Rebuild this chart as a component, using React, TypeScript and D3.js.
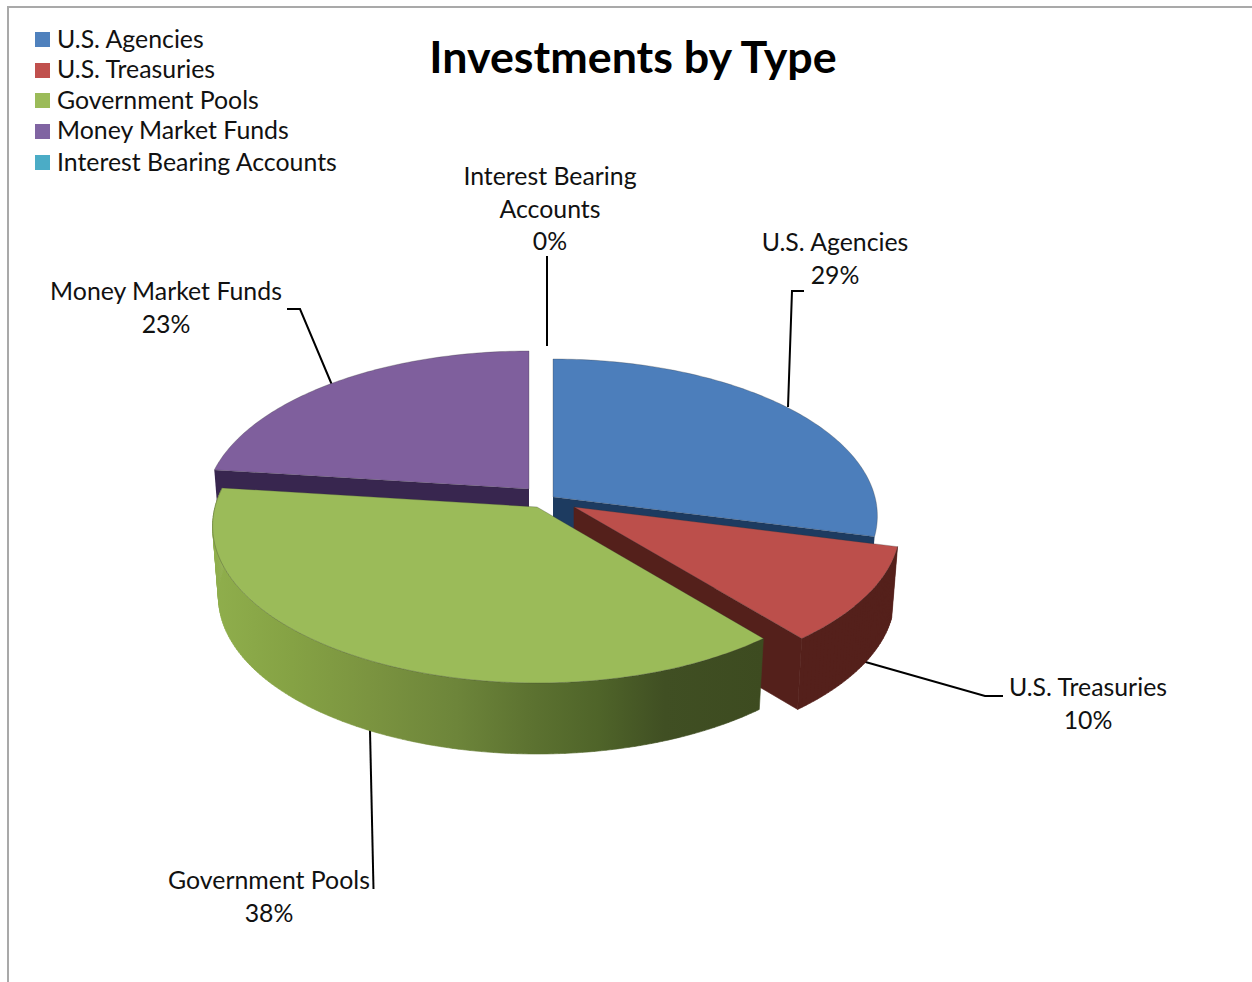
import React from "react";
import * as d3 from "d3";

// Portfolio shares by investment type, in percent.
const categories = ["U.S. Agencies", "U.S. Treasuries", "Government Pools", "Money Market Funds", "Interest Bearing Accounts"];
const shares = [29, 10, 38, 23, 0];
const topColors = ["#4c7ebb", "#bc4f4b", "#9bbb59", "#7f5f9d", "#4bacc6"];
const wallColors = ["#1d3b60", "#54201b", "#3e4d20", "#38264f", "#1d5f70"];
const legendSwatches = ["#4f81bd", "#c0504d", "#9bbb59", "#8064a2", "#4bacc6"];

// Pie geometry: a tilted disc with a mild perspective, the near rim larger than the far rim.
const TILT = 154.7;
const PERSPECTIVE = 0.121;
const THICKNESS = 71;
const FLOOR_SHRINK = 0.982;
const CENTER = { x: 544, y: 499 };
const sliceRadius = [322, 324, 322, 322, 322];
const explode = [
  { dx: 9, dy: -2 },
  { dx: 30, dy: 8 },
  { dx: -7, dy: 8 },
  { dx: -15, dy: -10 },
  { dx: 0, dy: 0 },
];

const wallGradientStops: [number, string][] = [
  [0, "#8fae4c"],
  [0.14, "#85a244"],
  [0.28, "#7b9440"],
  [0.44, "#6d853a"],
  [0.57, "#5d7331"],
  [0.7, "#4f6429"],
  [0.82, "#404f23"],
  [1, "#3d4b20"],
];

// Labels with their leader lines, laid out by hand around the pie.
const calloutLines: [string, string][] = [
  ["Interest Bearing", "Accounts"],
  ["U.S. Agencies", ""],
  ["Money Market Funds", ""],
  ["U.S. Treasuries", ""],
  ["Government Pools", ""],
];
const calloutShares = ["0%", "29%", "23%", "10%", "38%"];
const calloutX = [550, 835, 166, 1088, 269];
const calloutY = [185, 251, 300, 696, 889];
const leaderPaths: [number, number][][] = [
  [[547, 256], [547, 346]],
  [[804, 291], [792, 291], [788, 407]],
  [[287, 309], [300, 309], [332, 385]],
  [[1003, 696], [985, 696], [862, 661]],
  [[370, 730], [373.5, 889]],
];

const FONT = "Lato, 'Open Sans', sans-serif";
const LABEL_SIZE = 24.85;
const LEGEND_ROWS = [32, 63, 93, 124, 155];
const LEGEND_BASELINES = [48, 78, 109, 139, 171];

const lineGen = d3.line<[number, number]>();

function rimPoint(angle: number, radius: number) {
  const depth = -Math.cos(angle);
  const s = 1 / (1 - PERSPECTIVE * depth);
  return [radius * Math.sin(angle) * s, TILT * depth * s] as [number, number];
}

function arcSamples(a0: number, a1: number, radius: number) {
  const n = Math.max(2, Math.ceil(Math.abs(a1 - a0) * 60));
  return d3.range(n + 1).map((i) => rimPoint(a0 + ((a1 - a0) * i) / n, radius));
}

export default function App() {
  const arcs = d3
    .pie<number>()
    .sort(null)
    .startAngle(0)
    .endAngle(2 * Math.PI)(shares);

  const apex = (i: number): [number, number] => [CENTER.x + explode[i].dx, CENTER.y + explode[i].dy];
  const place = (i: number, p: [number, number]): [number, number] => [apex(i)[0] + p[0], apex(i)[1] + p[1]];
  const drop = (i: number, p: [number, number]): [number, number] => [
    apex(i)[0] + p[0] * FLOOR_SHRINK,
    apex(i)[1] + p[1] + THICKNESS,
  ];

  const top = (i: number) => {
    const rim = arcSamples(arcs[i].startAngle, arcs[i].endAngle, sliceRadius[i]).map((p) => place(i, p));
    return lineGen([apex(i), ...rim])! + "Z";
  };
  // The curved wall is swept as narrow quads so its silhouette follows the rim's tangent.
  const outerWall = (i: number) => {
    const samples = arcSamples(arcs[i].startAngle, arcs[i].endAngle, sliceRadius[i]);
    return d3
      .pairs(samples)
      .map(([a, b]) => lineGen([place(i, a), place(i, b), drop(i, b), drop(i, a)])! + "Z")
      .join("");
  };
  const radialWall = (i: number, angle: number) => {
    const rim = rimPoint(angle, sliceRadius[i]);
    return lineGen([apex(i), place(i, rim), drop(i, rim), drop(i, [0, 0])])! + "Z";
  };

  const edge = "rgba(50,50,50,0.35)";
  const greenIndex = 2;
  const greenLeft = place(greenIndex, rimPoint((3 * Math.PI) / 2, sliceRadius[greenIndex]))[0];
  const greenRight = place(greenIndex, rimPoint(arcs[greenIndex].startAngle, sliceRadius[greenIndex]))[0];

  return (
    <svg
      width={1252}
      height={982}
      viewBox="0 0 1252 982"
      style={{ position: "absolute", left: 0, top: 0, display: "block", background: "#fff" }}
    >
      <defs>
        <linearGradient
          id="greenWall"
          gradientUnits="userSpaceOnUse"
          x1={greenLeft}
          x2={greenRight}
          y1={0}
          y2={0}
        >
          {wallGradientStops.map(([o, c]) => (
            <stop key={o} offset={o} stopColor={c} />
          ))}
        </linearGradient>
      </defs>

      <path d="M8,982V7H1252" fill="none" stroke="#a9a9a9" strokeWidth={2} />

      <text x={633} y={73} textAnchor="middle" fontFamily={FONT} fontWeight={700} fontSize={44.8} fill="#000">
        Investments by Type
      </text>

      {categories.map((c, i) => (
        <g key={c}>
          <rect x={35} y={LEGEND_ROWS[i]} width={15} height={15} fill={legendSwatches[i]} />
          <text x={57} y={LEGEND_BASELINES[i]} fontFamily={FONT} fontSize={LABEL_SIZE} fill="#111">
            {c}
          </text>
        </g>
      ))}

      {leaderPaths.map((pts, i) => (
        <path key={i} d={lineGen(pts)!} fill="none" stroke="#000" strokeWidth={2} />
      ))}

      {/* Painted far to near so the front slices hide what lies behind them. */}
      <path d={radialWall(3, arcs[3].startAngle)} fill={wallColors[3]} />
      <path d={top(3)} fill={topColors[3]} stroke={edge} strokeWidth={0.8} />

      <path d={radialWall(0, arcs[0].endAngle)} fill={wallColors[0]} />
      <path d={top(0)} fill={topColors[0]} stroke={edge} strokeWidth={0.8} />

      <path d={outerWall(1)} fill={wallColors[1]} stroke={wallColors[1]} strokeWidth={0.6} />
      <path d={radialWall(1, arcs[1].endAngle)} fill={wallColors[1]} stroke={wallColors[1]} strokeWidth={0.6} />
      <path d={top(1)} fill={topColors[1]} stroke={edge} strokeWidth={0.8} />

      <path d={outerWall(2)} fill="url(#greenWall)" stroke="url(#greenWall)" strokeWidth={0.6} />
      <path d={top(2)} fill={topColors[2]} stroke={edge} strokeWidth={0.8} />

      {calloutLines.map((lines, i) => {
        const rows = [...lines.filter(Boolean), calloutShares[i]];
        return (
          <text key={i} textAnchor="middle" fontFamily={FONT} fontSize={LABEL_SIZE} fill="#111">
            {rows.map((r, j) => (
              <tspan key={j} x={calloutX[i]} y={calloutY[i] + j * 32.5}>
                {r}
              </tspan>
            ))}
          </text>
        );
      })}
    </svg>
  );
}
